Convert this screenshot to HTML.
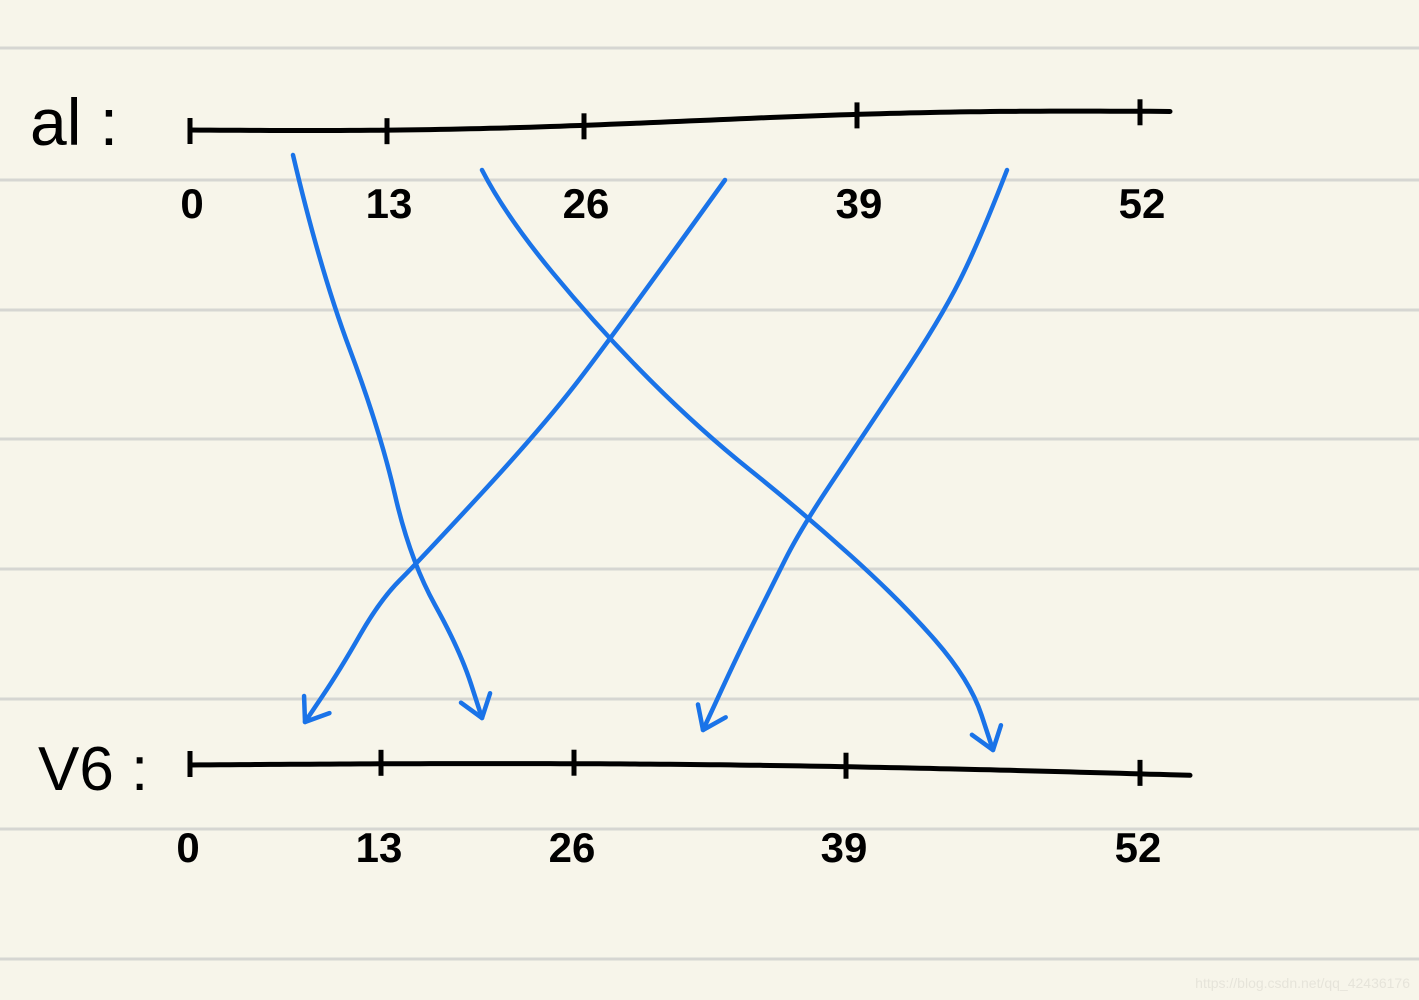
<!DOCTYPE html>
<html><head><meta charset="utf-8">
<style>
html,body{margin:0;padding:0;background:#f7f5ea;}
svg{display:block;}
text{font-family:"Liberation Sans",sans-serif;}
</style></head>
<body>
<svg id="chart" width="1419" height="1000" viewBox="0 0 1419 1000">
<rect width="1419" height="1000" fill="#f7f5ea"/>
<g id="rules"></g>
<text x="30" y="145" font-size="66" font-family="Liberation Serif" fill="#000">al :</text>
<text x="38" y="790" font-size="62" font-family="Liberation Serif" fill="#000">V6 :</text>
<g id="axes"></g>
<g id="arrows"></g>
<text x="1410" y="988" font-size="14" fill="#e6e4da" text-anchor="end">https://blog.csdn.net/qq_42436176</text>
</svg>
<script>
const tickLabels = ["0","13","26","39","52"];
const topTickX = [190,387,584,857,1140];
const bottomTickX = [190,381,574,846,1140];
const ruleY = [48,180,310,439,569,699,829,959];
const arrowPaths = [
  [[293,155],[320,270],[380,430],[410,560],[460,650],[482,718]],
  [[482,170],[505,215],[600,330],[700,430],[800,510],[900,600],[970,680],[993,750]],
  [[725,180],[610,340],[540,430],[420,560],[380,600],[340,670],[305,722]],
  [[1007,170],[980,240],[940,320],[860,440],[800,530],[770,590],[740,650],[703,730]]
];
const NS="http://www.w3.org/2000/svg";
function mk(tag,attrs,parent){const e=document.createElementNS(NS,tag);for(const k in attrs)e.setAttribute(k,attrs[k]);parent.appendChild(e);return e;}
const rules=document.getElementById('rules');
ruleY.forEach(y=>{
  const l=mk('line',{x1:0,x2:1419,y1:y,y2:y,stroke:'#d6d6d2','stroke-width':3},rules);
  
  
});
const axes=document.getElementById('axes');
function topY(x){return 130+ (x-190)/(1175-190)*(-18) + 4*Math.sin((x-190)/160);}
function botY(x){return 765+ (x-190)/(1192-190)*11 - 6*Math.sin((x-190)/330);}
function axisPath(f,x0,x1){let d='';for(let x=x0;x<=x1;x+=10){d+=(x===x0?'M':'L')+x+','+f(x).toFixed(1);}return d;}
const ta=mk('path',{d:axisPath(topY,190,1175),fill:'none',stroke:'#000','stroke-width':5,'stroke-linecap':'round'},axes);


const ba=mk('path',{d:axisPath(botY,190,1192),fill:'none',stroke:'#000','stroke-width':5,'stroke-linecap':'round'},axes);


topTickX.forEach((x,i)=>{
  const y=topY(x);
  const t=mk('line',{x1:x,x2:x,y1:y-12,y2:y+14,stroke:'#000','stroke-width':5},axes);
  
  
  const tx=mk('text',{x:x+2,y:218,'font-size':42,'text-anchor':'middle',fill:'#000','font-weight':'bold'},axes);
  tx.textContent=tickLabels[i];
  
  
});
bottomTickX.forEach((x,i)=>{
  const y=botY(x);
  const t=mk('line',{x1:x,x2:x,y1:y-14,y2:y+12,stroke:'#000','stroke-width':5},axes);
  
  
  const tx=mk('text',{x:x-2,y:862,'font-size':42,'text-anchor':'middle',fill:'#000','font-weight':'bold'},axes);
  tx.textContent=tickLabels[i];
  
  
});
const arrows=document.getElementById('arrows');
function smooth(pts){let d='M'+pts[0][0]+','+pts[0][1];
  for(let i=1;i<pts.length-1;i++){const mx=(pts[i][0]+pts[i+1][0])/2,my=(pts[i][1]+pts[i+1][1])/2;d+=' Q'+pts[i][0]+','+pts[i][1]+' '+mx+','+my;}
  const l=pts[pts.length-1];d+=' L'+l[0]+','+l[1];return d;}
arrowPaths.forEach(pts=>{
  const p=mk('path',{d:smooth(pts),fill:'none',stroke:'#1a73e8','stroke-width':4.5,'stroke-linecap':'round','stroke-linejoin':'round'},arrows);
  
  
  const e=pts[pts.length-1],b=pts[pts.length-2];
  const ang=Math.atan2(e[1]-b[1],e[0]-b[0]),L=26;
  const a1=ang+Math.PI*0.8,a2=ang-Math.PI*0.8;
  const h=mk('path',{d:'M'+(e[0]+L*Math.cos(a1))+','+(e[1]+L*Math.sin(a1))+' L'+e[0]+','+e[1]+' L'+(e[0]+L*Math.cos(a2))+','+(e[1]+L*Math.sin(a2)),fill:'none',stroke:'#1a73e8','stroke-width':4.5,'stroke-linecap':'round','stroke-linejoin':'round'},arrows);
  
  
});
</script>
</body></html>
